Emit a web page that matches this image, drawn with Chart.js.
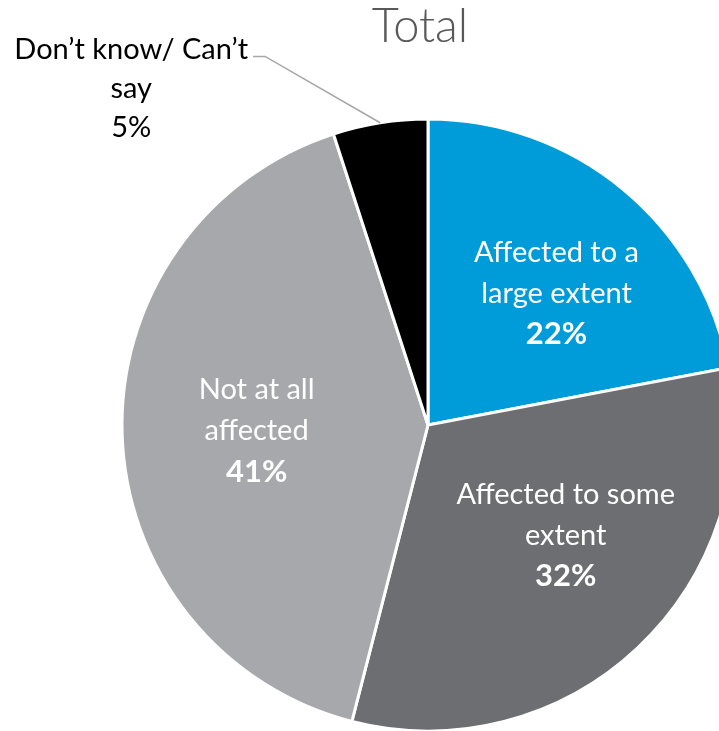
<!DOCTYPE html>
<html>
<head>
<meta charset="utf-8">
<script src="https://cdn.jsdelivr.net/npm/chart.js@4.4.0/dist/chart.umd.min.js"></script>
<style>
  html, body { margin: 0; padding: 0; background: #fff; overflow: hidden; }
  #wrap { position: relative; width: 719px; height: 731px; }
</style>
</head>
<body>
<div id="wrap"><canvas id="chart_total"></canvas></div>
<script>
// slices, clockwise from 12 o'clock
var categories = ['Affected to a large extent', 'Affected to some extent', 'Not at all affected', "Don’t know/ Can’t say"];
var values = [22, 32, 41, 5];
var colors = ['#009CDA', '#6D6E71', '#A7A8AB', '#000000'];
// label text lines for each slice (last line is the percent)
var labelLines = [
    ['Affected to a', 'large extent'],
    ['Affected to some', 'extent'],
    ['Not at all', 'affected'],
    ['Don’t know/ Can’t', 'say']
];
// label centre (middle line), as a fraction of radius from the pie centre
var labelPos = [[0.42, -0.43], [0.45, 0.36], [-0.56, 0.02], [-0.97, -1.10]];
var FONT = 'Lato, "Open Sans", sans-serif';

var labelPlugin = {
    id: 'sliceLabels',
    afterDatasetsDraw: function(chart) {
        var ctx = chart.ctx;
        var meta = chart.getDatasetMeta(0);
        var arc0 = meta.data[0];
        var cx = arc0.x, cy = arc0.y, r = arc0.outerRadius;
        ctx.save();
        ctx.textAlign = 'center';
        ctx.textBaseline = 'middle';

        // title
        ctx.fillStyle = '#595959';
        ctx.font = '300 47px ' + FONT;
        ctx.fillText('Total', cx - 8, 27);

        var lh, fw;
        for (var i = 0; i < values.length; i++) {
            var px = cx + labelPos[i][0] * r;
            var py = cy + labelPos[i][1] * r;
            var inside = i < 3;
            lh = inside ? 41 : 39;
            ctx.fillStyle = inside ? '#ffffff' : '#000000';
            ctx.font = '29px ' + FONT;
            ctx.fillText(labelLines[i][0], px, py - lh);
            ctx.fillText(labelLines[i][1], px, py);
            if (!inside) fw = ctx.measureText(labelLines[i][0]).width;
            ctx.font = inside ? 'bold 31px ' + FONT : '29px ' + FONT;
            ctx.fillText(values[i] + '%', px, py + lh);
        }

        // leader line for the small outside slice
        var a = meta.data[3];
        var mid = (a.startAngle + a.endAngle) / 2;
        var ex = cx + Math.cos(mid) * r;
        var ey = cy + Math.sin(mid) * r;
        var lx = cx + labelPos[3][0] * r + fw / 2 + 5;
        var ly = cy + labelPos[3][1] * r - 39 + 7;
        ctx.strokeStyle = '#A6A6A6';
        ctx.lineWidth = 1.5;
        ctx.beginPath();
        ctx.moveTo(lx, ly);
        ctx.lineTo(lx + 12, ly);
        ctx.lineTo(ex, ey);
        ctx.stroke();
        ctx.restore();
    }
};

var chart_total = new Chart(document.getElementById('chart_total'), {
    type: 'pie',
    data: {
        labels: categories,
        datasets: [
            {
                data: values,
                backgroundColor: colors,
                borderColor: '#ffffff',
                borderWidth: 3,
                clip: false
            }
        ]
    },
    options: {
        animation: false,
        responsive: true,
        maintainAspectRatio: false,
        radius: 306,
        layout: {
            padding: { left: 137, right: 0, top: 119, bottom: 0 }
        },
        plugins: {
            legend: { display: false },
            tooltip: { enabled: false },
            title: { display: false }
        }
    },
    plugins: [labelPlugin]
});
</script>
</body>
</html>
